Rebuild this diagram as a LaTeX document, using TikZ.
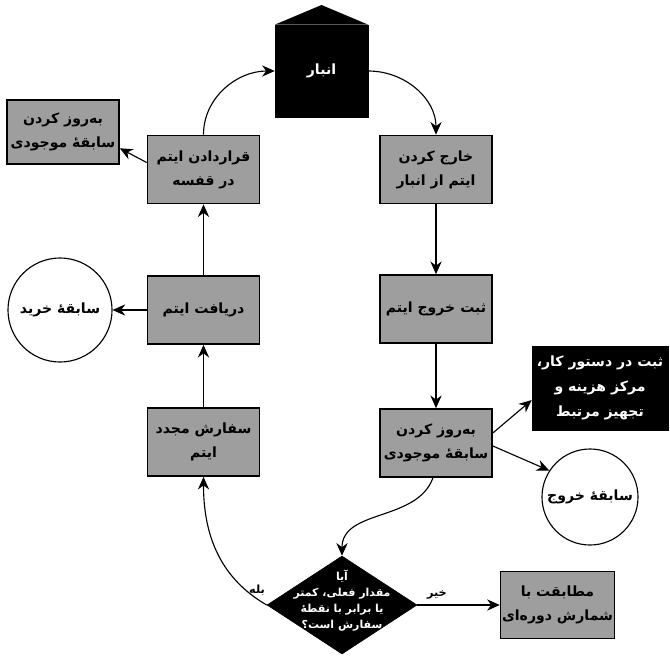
\documentclass[tikz,border=0pt]{standalone}
\usepackage{fontspec}
\newfontfamily\fa[Script=Arabic, BoldFont={DejaVu Sans Bold}]{DejaVu Sans}
\TeXXeTstate=1
\newcommand{\rtlline}[1]{\beginR#1\endR}
\usetikzlibrary{positioning,arrows.meta,shapes.geometric}

\begin{document}
\begin{tikzpicture}[x=0.025cm, y=-0.025cm,
  graybox/.style={draw=black, very thick, fill=black!38, minimum width=2.8cm, minimum height=1.7cm, align=center, inner sep=1pt, font=\fa\bfseries\fontsize{10}{17}\selectfont},
  blackbox/.style={draw=black, fill=black, text=white, align=center, inner sep=1pt, font=\fa\bfseries\fontsize{10}{18}\selectfont},
  record/.style={draw=black, thick, circle, fill=white, inner sep=1pt, font=\fa\bfseries\fontsize{10}{17}\selectfont},
  lbl/.style={font=\fa\bfseries\fontsize{8}{10}\selectfont},
  flow/.style={-{Stealth[length=9pt,width=8pt]}, thick}]
\useasboundingbox (0,0) rectangle (670,657);
% store
\node[blackbox, minimum width=2.325cm, minimum height=2.3cm] (store) at (321.5,71) {\rtlline{انبار}};
\fill (store.north west) -- (321.5,5) -- (store.north east) -- cycle;
% left column
\node[graybox] (put) at (203.5,169.5) {\rtlline{قراردادن ایتم}\\\rtlline{در قفسه}};
\node[graybox, minimum height=1.6cm] (updL) at (63,132) {\rtlline{به‌روز کردن}\\\rtlline{سابقهٔ موجودی}};
\node[graybox] (receive) at (203.5,310) {\rtlline{دریافت ایتم}};
\node[record, minimum size=2.6cm] (purchase) at (60,310) {\rtlline{سابقهٔ خرید}};
\node[graybox] (reorder) at (203.5,442) {\rtlline{سفارش مجدد}\\\rtlline{ایتم}};
% right column
\node[graybox] (take) at (436,169.5) {\rtlline{خارج کردن}\\\rtlline{ایتم از انبار}};
\node[graybox] (issue) at (436,309) {\rtlline{ثبت خروج ایتم}};
\node[graybox] (updR) at (436,443) {\rtlline{به‌روز کردن}\\\rtlline{سابقهٔ موجودی}};
\node[blackbox, minimum width=3.4cm, minimum height=2.1cm] (wo) at (600,388) {\rtlline{ثبت در دستور کار،}\\\rtlline{مرکز هزینه و}\\\rtlline{تجهیز مرتبط}};
\node[record, minimum size=2.4cm] (issuelog) at (590,497) {\rtlline{سابقهٔ خروج}};
% decision
\node[diamond, draw=black, fill=black, minimum width=3.75cm, minimum height=2.45cm, inner sep=0pt] (dec) at (342,605) {};
\node[text=white, align=center, yshift=3pt, font=\fa\bfseries\fontsize{7.8}{11.5}\selectfont] (question) at (dec.center) {\rtlline{آیا}\\\rtlline{مقدار فعلی، کمتر}\\\rtlline{یا برابر با نقطهٔ}\\\rtlline{سفارش است؟}};
\node[graybox, minimum width=2.775cm, minimum height=1.675cm] (reconcile) at (557.5,605) {\rtlline{مطابقت با}\\\rtlline{شمارش دوره‌ای}};
\node[lbl] (yes) at (257,590) {\rtlline{بله}};
\node[lbl] (no) at (437,595) {\rtlline{خیر}};
% connectors
\draw[flow] (put.north) to[out=90,in=180] (store.west);
\draw[flow] (store.east) to[out=0,in=90] (take.north);
\draw[flow] (take) -- (issue);
\draw[flow] (issue) -- (updR);
\draw[flow] (updR.10) -- (wo.190);
\draw[flow] (updR.-3) -- (issuelog.147);
\draw[flow] (updR.-95) to[out=-110,in=90] (dec.north);
\draw[flow] (dec.west) to[out=150,in=-90] (reorder.south);
\draw[flow] (dec.east) -- (reconcile.west);
\draw[flow] (reorder) -- (receive);
\draw[flow] (receive) -- (purchase);
\draw[flow] (receive) -- (put);
\draw[flow] (put.173) -- (updL.-16);
\end{tikzpicture}
\end{document}
